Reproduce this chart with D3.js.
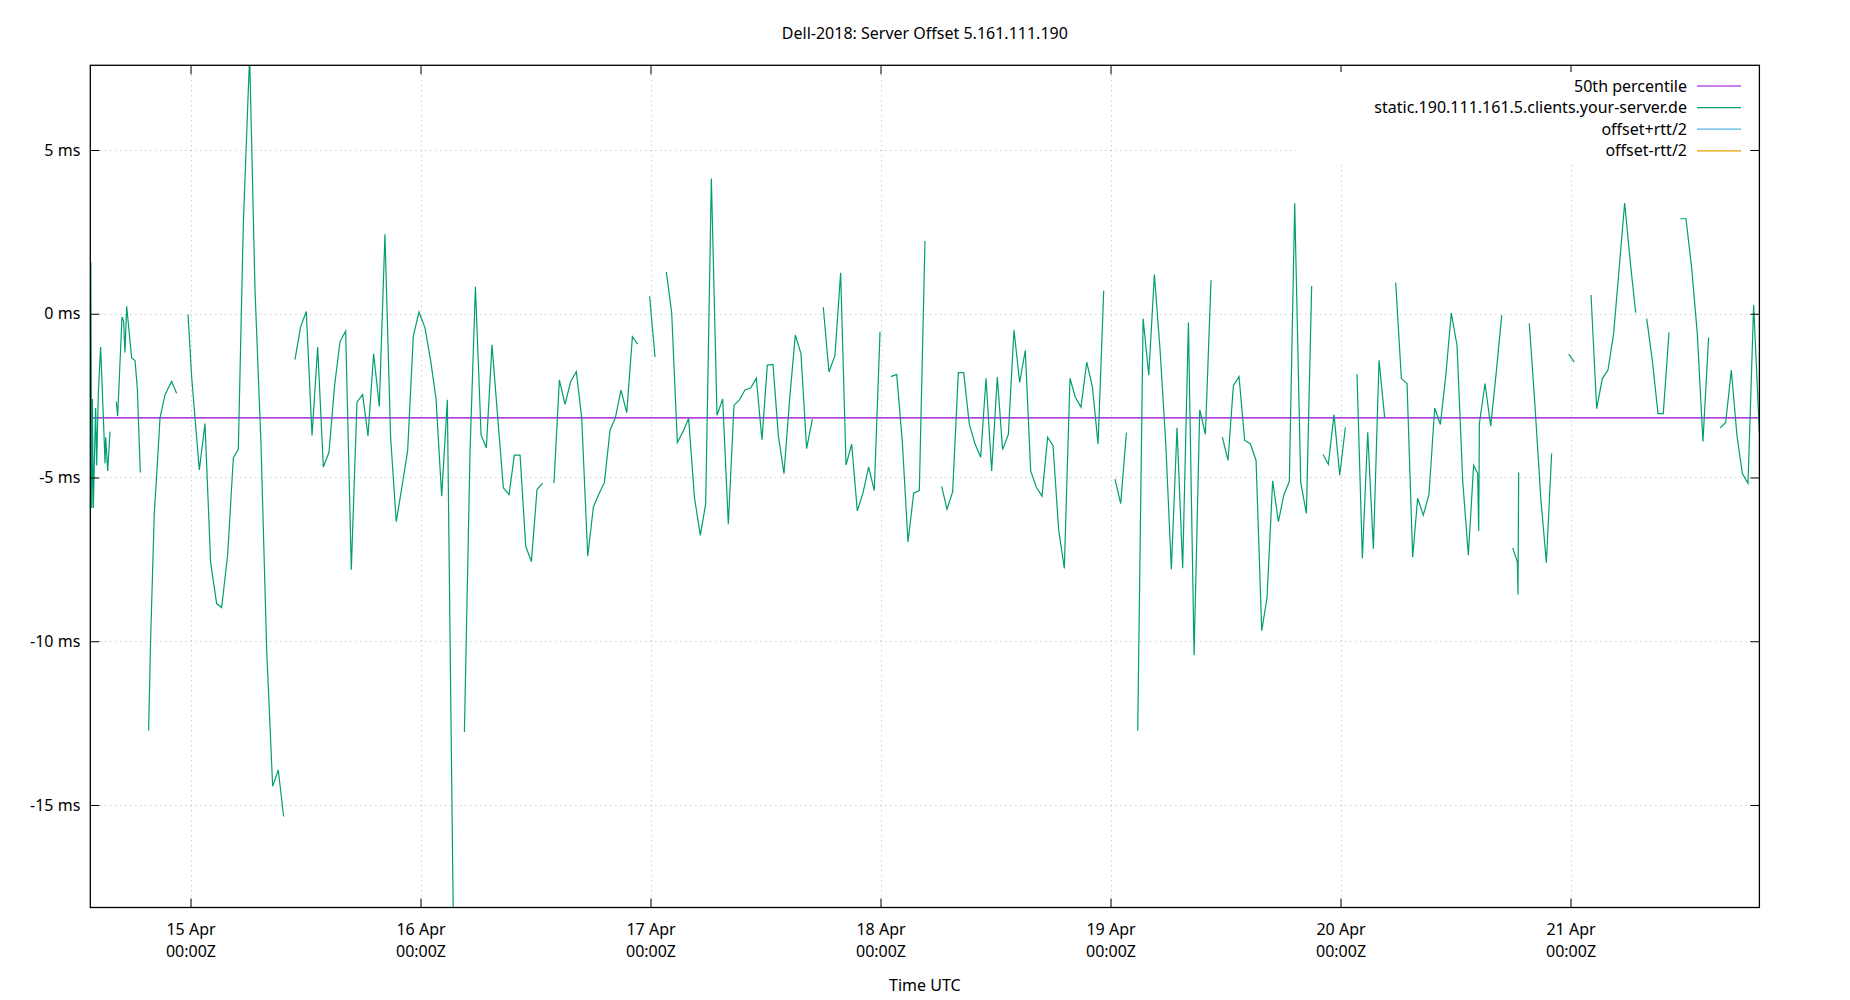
<!DOCTYPE html>
<html>
<head>
<meta charset="utf-8">
<script src="https://cdn.jsdelivr.net/npm/d3@7"></script>
<style>
  body { margin: 0; background: #fff; }
  text { font-family: "Noto Sans", sans-serif; font-size: 16px; fill: #000; }
</style>
</head>
<body>
<script>
// Chart data: hours since 15 Apr 00:00 UTC, offsets in ms (null = gap in the series)
var hours = [
  -10.40,-10.31,-10.24,-10.14,-9.90,-9.79,-9.62,-9.38,-9.10,-8.92,-8.85,-8.64,-8.40,null,
  -7.74,-7.60,-7.15,-6.98,-6.84,-6.66,-6.14,-5.79,-5.55,-5.24,null,
  -4.37,-4.16,-3.78,-3.53,-3.18,-2.66,-1.97,-1.45,null,
  -0.26,0.12,0.92,1.51,2.10,2.73,3.25,3.88,4.47,4.99,5.51,6.17,6.73,7.35,7.95,8.57,9.16,9.72,null,
  10.90,11.49,12.08,12.68,13.27,13.86,14.45,15.04,15.60,16.19,16.78,17.37,17.96,18.52,19.11,19.70,
  20.29,20.88,21.47,22.07,22.66,23.25,23.84,24.47,25.06,25.62,26.21,26.80,27.46,null,
  28.58,29.17,29.73,30.32,30.87,31.46,32.06,32.65,33.24,33.79,34.39,34.98,35.57,36.16,36.75,null,
  37.93,38.49,39.08,39.67,40.26,40.82,41.45,42.04,42.59,43.19,43.78,44.33,44.92,45.52,46.11,46.66,null,
  47.91,48.47,null,
  49.65,50.21,50.80,51.39,51.98,52.58,53.20,53.76,54.35,54.94,55.53,56.12,56.71,57.27,57.86,58.45,
  59.04,59.63,60.19,60.78,61.34,61.93,62.52,63.11,63.70,64.29,64.89,null,
  66.03,66.62,67.25,67.84,68.40,68.99,69.58,70.17,70.76,71.35,71.95,null,
  73.09,73.69,74.28,74.87,75.46,76.05,76.64,null,
  78.38,78.94,79.53,80.12,80.68,81.27,81.86,82.45,83.01,83.60,84.19,84.74,85.34,85.93,86.52,87.11,
  87.67,88.26,88.85,89.44,90.00,90.59,91.18,91.77,92.33,92.92,93.52,94.11,94.70,95.29,null,
  96.47,97.06,97.66,null,
  98.84,99.40,99.99,100.58,101.17,101.76,102.35,102.94,103.53,104.13,104.72,105.31,105.90,106.49,null,
  107.67,108.26,108.82,109.41,110.00,110.59,111.19,111.78,112.33,112.92,113.52,114.07,114.66,115.22,
  115.85,116.44,116.99,null,
  118.18,118.73,119.32,119.92,120.51,null,
  121.72,122.28,122.84,123.43,124.02,124.61,null,
  125.76,126.35,126.94,127.53,128.05,128.64,129.23,129.83,130.42,130.97,131.56,132.16,132.75,133.34,
  133.89,134.31,134.42,134.49,135.08,135.67,136.23,136.82,null,
  137.96,138.45,138.52,138.59,null,
  139.70,140.29,140.89,141.48,142.03,null,
  143.81,144.40,null,
  146.14,146.73,147.32,147.91,148.50,149.06,149.65,150.24,150.80,null,
  151.95,152.54,153.13,153.68,154.28,null,
  155.46,156.05,156.64,157.23,157.82,158.41,null,
  159.63,160.19,160.78,161.37,161.93,162.52,163.11,163.70
];
var offsetMs = [
  1.57,-5.93,-2.6,-5.93,-2.88,-4.63,-2.43,-1.02,-3.1,-4.57,-3.77,-4.8,-3.6,null,
  -2.68,-3.13,-0.1,-0.23,-1.18,0.23,-1.35,-1.43,-2.27,-4.85,null,
  -12.73,-9.93,-6.1,-4.93,-3.18,-2.47,-2.07,-2.43,null,
  -0.02,-1.93,-4.77,-3.35,-7.6,-8.85,-8.97,-7.35,-4.4,-4.13,2.73,7.9,0.73,-3.93,-10.27,-14.43,-13.93,-15.35,null,
  -1.4,-0.4,0.07,-3.72,-1.02,-4.68,-4.23,-2.18,-0.85,-0.53,-7.82,-2.7,-2.47,-3.73,-1.22,-2.83,
  2.43,-3.77,-6.35,-5.27,-4.18,-0.68,0.05,-0.43,-1.43,-2.6,-5.57,-2.63,-19.5,null,
  -12.77,-4.18,0.82,-3.7,-4.1,-0.95,-3.18,-5.32,-5.52,-4.32,-4.32,-7.1,-7.57,-5.37,-5.17,null,
  -5.17,-2.02,-2.77,-2.07,-1.77,-3.18,-7.4,-5.9,-5.52,-5.15,-3.55,-3.18,-2.33,-3.02,-0.7,-0.93,null,
  0.53,-1.32,null,
  1.28,0.03,-3.93,-3.6,-3.2,-5.6,-6.77,-5.8,4.13,-3.1,-2.6,-6.43,-2.8,-2.63,-2.33,-2.27,
  -1.97,-3.85,-1.57,-1.55,-3.72,-4.88,-2.6,-0.65,-1.22,-4.12,-3.22,null,
  0.2,-1.78,-1.27,1.25,-4.62,-3.98,-6.02,-5.48,-4.68,-5.4,-0.55,null,
  -1.92,-1.85,-3.93,-6.97,-5.48,-5.4,2.22,null,
  -5.27,-5.97,-5.43,-1.8,-1.8,-3.38,-3.97,-4.38,-1.97,-4.8,-1.93,-4.15,-3.68,-0.5,-2.1,-1.12,
  -4.8,-5.3,-5.57,-3.77,-4.03,-6.6,-7.78,-1.97,-2.55,-2.85,-1.48,-2.23,-3.98,0.7,null,
  -5.05,-5.8,-3.63,null,
  -12.73,-0.15,-1.88,1.2,-1.1,-3.93,-7.8,-3.48,-7.77,-0.27,-10.43,-2.93,-3.68,1.02,null,
  -3.77,-4.48,-2.2,-1.92,-3.87,-3.97,-4.48,-9.68,-8.68,-5.1,-6.35,-5.55,-5.12,3.37,
  -5.15,-6.1,0.85,null,
  -4.3,-4.6,-3.08,-4.93,-3.47,null,
  -1.85,-7.47,-3.62,-7.18,-1.42,-3.18,null,
  0.95,-1.98,-2.13,-7.43,-5.63,-6.15,-5.52,-2.88,-3.38,-1.93,0.02,-0.97,-5.1,-7.37,
  -4.63,-4.88,-6.63,-3.35,-2.13,-3.43,-1.85,-0.05,null,
  -7.15,-7.57,-8.57,-4.85,null,
  -0.3,-2.8,-5.6,-7.6,-4.27,null,
  -1.23,-1.48,null,
  0.57,-2.9,-1.98,-1.72,-0.6,1.32,3.38,1.57,0.03,null,
  -0.15,-1.43,-3.05,-3.05,-0.57,null,
  2.9,2.9,1.4,-0.6,-3.9,-0.73,null,
  -3.48,-3.32,-1.72,-3.72,-4.88,-5.18,0.27,-3.6
];
var percentile50 = -3.18;
var yTicks = [5, 0, -5, -10, -15];
var dayTicks = [15, 16, 17, 18, 19, 20, 21];
var hourDomain = [-10.456, 163.71];
var msDomain = [-18.13, 7.586];

var legendNames = ["50th percentile", "static.190.111.161.5.clients.your-server.de", "offset+rtt/2", "offset-rtt/2"];
var legendColors = ["#9400d3", "#009e73", "#56b4e9", "#e69f00"];

var width = 1850, height = 1000;
var plotLeft = 90.3, plotRight = 1759.4, plotTop = 65.3, plotBottom = 907.5;

var base = Date.UTC(2018, 3, 15);
function toDate(h) { return new Date(base + h * 3600e3); }

var x = d3.scaleUtc()
  .domain(hourDomain.map(toDate))
  .range([plotLeft, plotRight]);
var y = d3.scaleLinear()
  .domain(msDomain)
  .range([plotBottom, plotTop]);

var svg = d3.select("body").append("svg")
  .attr("width", width)
  .attr("height", height);

svg.append("defs").append("clipPath").attr("id", "plot")
  .append("rect")
  .attr("x", plotLeft).attr("y", plotTop)
  .attr("width", plotRight - plotLeft).attr("height", plotBottom - plotTop);

var tickDates = dayTicks.map(function(d) { return new Date(Date.UTC(2018, 3, d)); });

// grid
var grid = svg.append("g").attr("stroke", "#b8b8b8").attr("stroke-width", 1)
  .attr("stroke-dasharray", "1,4");
grid.selectAll("line.gx").data(tickDates).enter().append("line")
  .attr("x1", function(d) { return Math.round(x(d)) + 0.5; })
  .attr("x2", function(d) { return Math.round(x(d)) + 0.5; })
  .attr("y1", plotTop).attr("y2", plotBottom);
grid.selectAll("line.gy").data(yTicks).enter().append("line")
  .attr("y1", function(d) { return Math.round(y(d)) + 0.5; })
  .attr("y2", function(d) { return Math.round(y(d)) + 0.5; })
  .attr("x1", plotLeft).attr("x2", plotRight);

// 50th percentile
svg.append("line")
  .attr("x1", plotLeft).attr("x2", plotRight)
  .attr("y1", y(percentile50)).attr("y2", y(percentile50))
  .attr("stroke", legendColors[0]).attr("stroke-width", 1.2);

// offset series
var points = hours.map(function(h, i) { return { h: h, v: offsetMs[i] }; });
var line = d3.line()
  .defined(function(d) { return d.v != null; })
  .x(function(d) { return x(toDate(d.h)); })
  .y(function(d) { return y(d.v); });

svg.append("path")
  .datum(points)
  .attr("clip-path", "url(#plot)")
  .attr("fill", "none")
  .attr("stroke", legendColors[1])
  .attr("stroke-width", 1.2)
  .attr("stroke-linejoin", "miter")
  .attr("d", line);

// axes (ticks pointing inward, mirrored)
var fmtDay = d3.utcFormat("%d Apr");
var xBottom = svg.append("g")
  .attr("transform", "translate(0," + plotBottom + ")")
  .call(d3.axisBottom(x).tickValues(tickDates).tickSizeInner(-9).tickSizeOuter(0).tickPadding(26)
    .tickFormat(fmtDay));
xBottom.selectAll(".tick text").each(function() {
  var t = d3.select(this), label = t.text();
  t.text(null);
  t.append("tspan").attr("x", 0).attr("dy", "0.1em").text(label);
  t.append("tspan").attr("x", 0).attr("dy", "1.35em").text("00:00Z");
});
svg.append("g")
  .attr("transform", "translate(0," + plotTop + ")")
  .call(d3.axisTop(x).tickValues(tickDates).tickSizeInner(-9).tickSizeOuter(0).tickFormat(""));
svg.append("g")
  .attr("transform", "translate(" + plotLeft + ",0)")
  .call(d3.axisLeft(y).tickValues(yTicks).tickSizeInner(-9).tickSizeOuter(0).tickPadding(10)
    .tickFormat(function(d) { return d + " ms"; }));
svg.append("g")
  .attr("transform", "translate(" + plotRight + ",0)")
  .call(d3.axisRight(y).tickValues(yTicks).tickSizeInner(-9).tickSizeOuter(0).tickFormat(""));

svg.selectAll(".domain").remove();
svg.selectAll(".tick line").attr("stroke", "#000");
svg.selectAll(".tick text").style("font-size", "16px").style("font-family", "'Noto Sans', sans-serif").attr("fill", "#000");

// legend
var legend = svg.append("g");
legend.append("rect")
  .attr("x", 1297).attr("y", 72)
  .attr("width", 1749 - 1297).attr("height", 90)
  .attr("fill", "#fff");
var entry = legend.selectAll("g").data(legendNames).enter().append("g")
  .attr("transform", function(d, i) { return "translate(0," + (86 + i * 21.6) + ")"; });
entry.append("text")
  .attr("x", 1687).attr("dy", "0.35em")
  .attr("text-anchor", "end")
  .text(function(d) { return d; });
entry.append("line")
  .attr("x1", 1697).attr("x2", 1741)
  .attr("stroke", function(d, i) { return legendColors[i]; })
  .attr("stroke-width", 1.2);

// border
svg.append("rect")
  .attr("x", plotLeft).attr("y", plotTop)
  .attr("width", plotRight - plotLeft).attr("height", plotBottom - plotTop)
  .attr("fill", "none").attr("stroke", "#000").attr("stroke-width", 1.3);

// title and axis label
svg.append("text")
  .attr("x", (plotLeft + plotRight) / 2).attr("y", 33).attr("dy", "0.35em")
  .attr("text-anchor", "middle")
  .text("Dell-2018: Server Offset 5.161.111.190");
svg.append("text")
  .attr("x", (plotLeft + plotRight) / 2).attr("y", 985).attr("dy", "0.35em")
  .attr("text-anchor", "middle")
  .text("Time UTC");
</script>
</body>
</html>
